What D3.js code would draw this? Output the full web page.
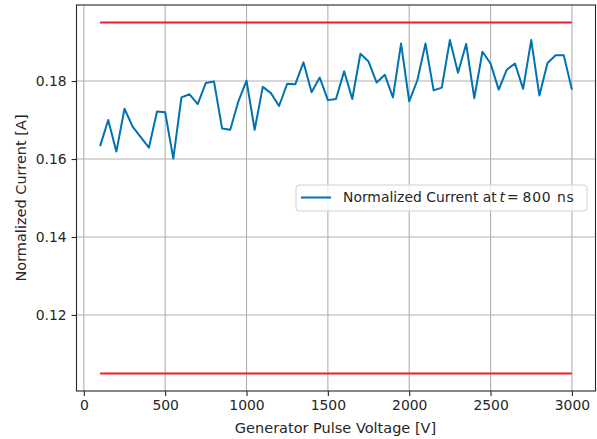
<!DOCTYPE html>
<html>
<head>
<meta charset="utf-8">
<script src="https://cdn.jsdelivr.net/npm/d3@7"></script>
<style>
  body { margin: 0; background: #fff; }
  svg text { font-family: "DejaVu Sans", sans-serif; fill: #262626; }
</style>
</head>
<body>
<div id="chart"></div>
<script>
// pulse voltages (V), 100..3000 in steps of 50
let voltages = d3.range(100, 3001, 50);

// normalized current at t = 800 ns
let currents = [
  0.1633, 0.1700, 0.1619, 0.1729, 0.1683, 0.1656, 0.1629, 0.1722, 0.1720, 0.1601,
  0.1758, 0.1766, 0.1741, 0.1795, 0.1799, 0.1678, 0.1675, 0.1748, 0.1801, 0.1675,
  0.1785, 0.1769, 0.1736, 0.1793, 0.1792, 0.1848, 0.1771, 0.1809, 0.1751, 0.1754,
  0.1825, 0.1754, 0.1870, 0.1850, 0.1796, 0.1816, 0.1758, 0.1896, 0.1748, 0.1802,
  0.1896, 0.1776, 0.1783, 0.1905, 0.1821, 0.1895, 0.1756, 0.1875, 0.1845, 0.1778,
  0.1829, 0.1845, 0.1780, 0.1905, 0.1763, 0.1846, 0.1866, 0.1866, 0.1778
];

// limit lines
let limits = [0.195, 0.105];
let limitRange = [100, 3000];

let xTicks = [0, 500, 1000, 1500, 2000, 2500, 3000];
let yTicks = [0.12, 0.14, 0.16, 0.18];

let legendLabel = "Normalized Current at";

// svg dimensions
let svgWidth = 597;
let svgHeight = 439;
let margin = { top: 5, right: 1.5, bottom: 48, left: 76.5 };
let width = svgWidth - margin.left - margin.right;
let height = svgHeight - margin.top - margin.bottom;

let data = voltages.map((v, i) => ({ v: v, c: currents[i] }));

let svg = d3.select("#chart")
  .append("svg")
  .attr("width", svgWidth)
  .attr("height", svgHeight);

let g = svg.append("g")
  .attr("transform", `translate(${margin.left}, ${margin.top})`);

// scales (matplotlib style 5% padding)
let xScale = d3.scaleLinear().domain([-45, 3145]).range([0, width]);
let yScale = d3.scaleLinear().domain([0.1005, 0.1995]).range([height, 0]);

// grid
g.append("g")
  .selectAll("line")
  .data(xTicks)
  .join("line")
  .attr("x1", d => xScale(d)).attr("x2", d => xScale(d))
  .attr("y1", 0).attr("y2", height)
  .attr("stroke", "#b0b0b0").attr("stroke-width", 1.1);

g.append("g")
  .selectAll("line")
  .data(yTicks)
  .join("line")
  .attr("y1", d => yScale(d)).attr("y2", d => yScale(d))
  .attr("x1", 0).attr("x2", width)
  .attr("stroke", "#b0b0b0").attr("stroke-width", 1.1);

// limit lines
g.append("g")
  .selectAll("line")
  .data(limits)
  .join("line")
  .attr("x1", xScale(limitRange[0])).attr("x2", xScale(limitRange[1]))
  .attr("y1", d => yScale(d)).attr("y2", d => yScale(d))
  .attr("stroke", "#ee1c24").attr("stroke-width", 2);

// data line
let line = d3.line().x(d => xScale(d.v)).y(d => yScale(d.c));
g.append("path")
  .datum(data)
  .attr("d", line)
  .attr("fill", "none")
  .attr("stroke", "#0072b2")
  .attr("stroke-width", 2)
  .attr("stroke-linejoin", "round");

// frame
g.append("rect")
  .attr("width", width).attr("height", height)
  .attr("fill", "none").attr("stroke", "#262626").attr("stroke-width", 1.1);

// axes
let bottomAxis = d3.axisBottom(xScale).tickValues(xTicks).tickFormat(d3.format("d"))
  .tickSize(4.9).tickPadding(4.2).tickSizeOuter(0);
let leftAxis = d3.axisLeft(yScale).tickValues(yTicks).tickFormat(d3.format(".2f"))
  .tickSize(4.9).tickPadding(4.9).tickSizeOuter(0);

let xAxisG = g.append("g").attr("transform", `translate(0, ${height})`).call(bottomAxis);
let yAxisG = g.append("g").call(leftAxis);

[xAxisG, yAxisG].forEach(a => {
  a.select(".domain").remove();
  a.selectAll(".tick line").attr("stroke", "#262626").attr("stroke-width", 1.1);
  a.selectAll(".tick text")
    .attr("fill", "#262626")
    .style("font-family", "'DejaVu Sans', sans-serif")
    .style("font-size", "13.9px");
});

// axis labels
svg.append("text")
  .attr("x", 335.5)
  .attr("y", 433)
  .attr("text-anchor", "middle")
  .style("font-size", "14.5px")
  .text("Generator Pulse Voltage [V]");

svg.append("text")
  .attr("transform", `translate(26, ${margin.top + height / 2}) rotate(-90)`)
  .attr("text-anchor", "middle")
  .style("font-size", "14.5px")
  .text("Normalized Current [A]");

// legend
let legend = svg.append("g");
legend.append("rect")
  .attr("x", 296).attr("y", 185)
  .attr("width", 291).attr("height", 26)
  .attr("rx", 3)
  .attr("fill", "#fff").attr("fill-opacity", 0.8)
  .attr("stroke", "#d0d0d0").attr("stroke-width", 1);
legend.append("line")
  .attr("x1", 301).attr("x2", 331)
  .attr("y1", 197.5).attr("y2", 197.5)
  .attr("stroke", "#0072b2").attr("stroke-width", 2);
let lt = legend.append("text")
  .attr("y", 202)
  .style("font-size", "13.9px");
lt.append("tspan").attr("x", 343).text(legendLabel);
lt.append("tspan").attr("x", 499.5).style("font-style", "italic").text("t");
lt.append("tspan").attr("x", 507).text("=");
lt.append("tspan").attr("x", 522.5).style("letter-spacing", "0.8px").text("800");
lt.append("tspan").attr("x", 557).style("letter-spacing", "0.8px").text("ns");
</script>
</body>
</html>
